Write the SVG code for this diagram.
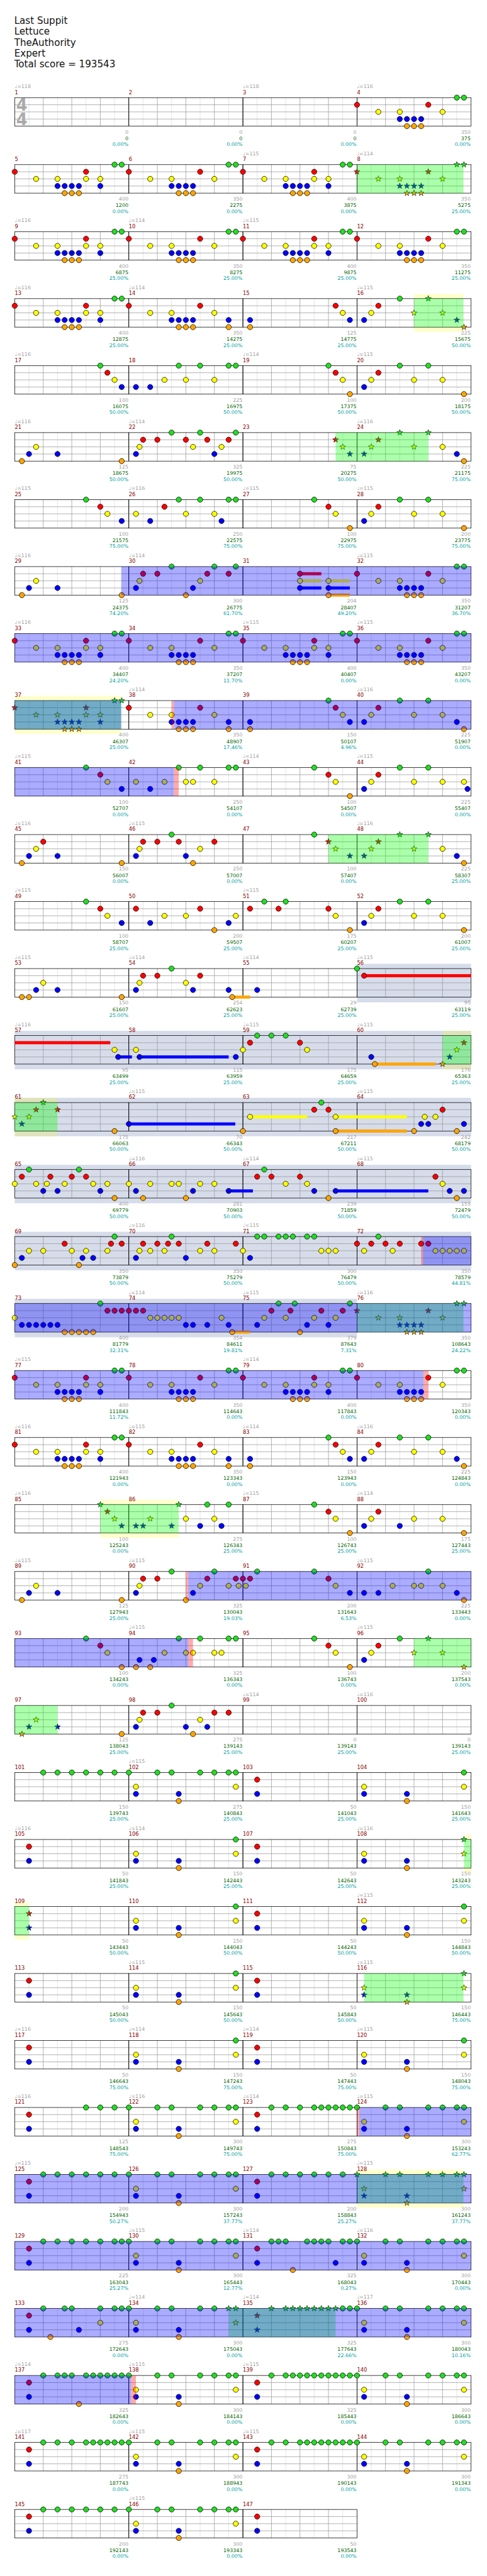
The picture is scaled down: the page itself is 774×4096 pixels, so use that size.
<svg xmlns="http://www.w3.org/2000/svg" width="774" height="4096" viewBox="0 0 774 4096">
<style>
text{font-family:"DejaVu Sans",sans-serif}
.t{font-size:20px;fill:#111}
.ts{font-size:34px;font-weight:bold;fill:#aaa}
.tp{font-size:10.5px;fill:#a0a0a0}
.n{font-size:11px;fill:#8b0000}
.a,.b,.c{font-size:10.5px;text-anchor:end}
.a{fill:#a0a0a0}.b{fill:#006400}.c{fill:#00a0a0}
.gr{fill:#00ff00;fill-opacity:.33}
.bl{fill:#0000ff;fill-opacity:.33}
.pk{fill:#ff0000;fill-opacity:.33}
.yb{fill:#ffff00;fill-opacity:.2}
.bd{fill:#325096;fill-opacity:.2}
.sr{fill:#f00}.sy{fill:#ff0}.sb{fill:#00f}.so{fill:#ffa500}
</style>
<defs>
<g id="M"><path d="M30 0V60M90 0V60M150 0V60M210 0V60" stroke="#dcdcdc"/><path d="M60 0V60M120 0V60M180 0V60M0 15H240M0 30H240M0 45H240" stroke="#9a9a9a"/><rect width="240" height="60" fill="none" stroke="#000"/></g>
<circle id="G" r="5.5" fill="#22dd22" stroke="#000"/>
<circle id="R" cy="15" r="5.5" fill="#f00" stroke="#000"/>
<circle id="Y" cy="30" r="5.5" fill="#ff0" stroke="#000"/>
<circle id="B" cy="45" r="5.5" fill="#00f" stroke="#000"/>
<circle id="O" cy="60" r="5.5" fill="#ffa500" stroke="#000"/>
<polygon id="st" points="0,-6.5 1.53,-2.1 6.18,-2.01 2.47,0.8 3.82,5.26 0,2.6 -3.82,5.26 -2.47,0.8 -6.18,-2.01 -1.53,-2.1" stroke="#000" stroke-width="0.8"/>
<use id="sG" href="#st" fill="#22dd22"/>
<use id="sR" href="#st" y="15" fill="#f00"/>
<use id="sY" href="#st" y="30" fill="#ff0"/>
<use id="sB" href="#st" y="45" fill="#00f"/>
<use id="sO" href="#st" y="60" fill="#ffa500"/>
<g id="P0"><use href="#R"/><use href="#Y" x="45"/><use href="#Y" x="90"/><use href="#B" x="90"/><use href="#B" x="105"/><use href="#B" x="120"/><use href="#B" x="135"/><use href="#O" x="105"/><use href="#O" x="120"/><use href="#O" x="135"/><use href="#R" x="150"/><use href="#Y" x="180"/></g>
<g id="P1"><use href="#P0"/><use href="#G" x="210"/><use href="#G" x="225"/></g>
<g id="P2"><use href="#P1"/><use href="#Y" x="150"/><use href="#B" x="180"/></g>
<g id="P3"><use href="#P0"/><use href="#B" x="210"/><use href="#O" x="210"/></g>
<g id="P1s"><use href="#sR"/><use href="#sY" x="45"/><use href="#sY" x="90"/><use href="#sB" x="90"/><use href="#sB" x="105"/><use href="#sB" x="120"/><use href="#sB" x="135"/><use href="#sO" x="105"/><use href="#sO" x="120"/><use href="#sO" x="135"/><use href="#sR" x="150"/><use href="#sY" x="180"/><use href="#sG" x="210"/><use href="#sG" x="225"/></g>
<g id="P2s"><use href="#P1s"/><use href="#sY" x="150"/><use href="#sB" x="180"/></g>
<g id="Q1"><use href="#Y" x="15"/><use href="#B" x="15"/><use href="#B" x="105"/><use href="#O" x="105"/><use href="#Y" x="225"/><use href="#G" x="225"/></g>
<g id="Q1s"><use href="#sY" x="15"/><use href="#sB" x="15"/><use href="#sB" x="105"/><use href="#sO" x="105"/><use href="#sY" x="225"/><use href="#sG" x="225"/></g>
<g id="Q2"><use href="#R" x="30"/><use href="#B" x="30"/></g>
<g id="Q2s"><use href="#sR" x="30"/><use href="#sB" x="30"/></g>
<g id="Q3"><use href="#Q1"/><use href="#G"/><use href="#G" x="60"/><use href="#G" x="90"/><use href="#G" x="150"/><use href="#G" x="180"/><use href="#G" x="210"/></g>
<g id="Q3s"><use href="#Q1s"/><use href="#sG"/><use href="#sG" x="60"/><use href="#sG" x="90"/><use href="#sG" x="150"/><use href="#sG" x="180"/><use href="#sG" x="210"/></g>
</defs>
<rect width="774" height="4096" fill="#fff"/>
<g transform="scale(0.7555)">
<g id="title">
<text class="t" x="30" y="50">Last Suppit</text>
<text class="t" x="30" y="73">Lettuce</text>
<text class="t" x="30" y="96">TheAuthority</text>
<text class="t" x="30" y="119">Expert</text>
<text class="t" x="30" y="142">Total score = 193543</text>
</g>

<g id="row1" transform="translate(0,205.5)">
<g><use href="#M" x="31"/><use href="#M" x="271"/><use href="#M" x="511"/><use href="#M" x="751"/></g>
<text class="ts" x="34" y="27.5">4</text><text class="ts" x="34" y="57.5">4</text>
<g id="m1" transform="translate(31,0)"><text class="tp" y="-20">♩=118</text><text class="n" y="-7.5">1</text><text class="a" x="239" y="76">0</text><text class="b" x="239" y="89.5">0</text><text class="c" x="239" y="102">0.00%</text></g>
<g id="m2" transform="translate(271,0)"><text class="n" y="-7.5">2</text><text class="a" x="239" y="76">0</text><text class="b" x="239" y="89.5">0</text><text class="c" x="239" y="102">0.00%</text></g>
<g id="m3" transform="translate(511,0)"><text class="tp" y="-20">♩=118</text><text class="n" y="-7.5">3</text><text class="a" x="239" y="76">0</text><text class="b" x="239" y="89.5">0</text><text class="c" x="239" y="102">0.00%</text></g>
<g id="m4" transform="translate(751,0)"><text class="tp" y="-20">♩=116</text><text class="n" y="-7.5">4</text><text class="a" x="239" y="76">350</text><text class="b" x="239" y="89.5">375</text><text class="c" x="239" y="102">0.00%</text><use href="#P1"/></g>
</g>

<g id="row2" transform="translate(0,346.5)">
<g><use href="#M" x="31"/><use href="#M" x="271"/><use href="#M" x="511"/><use href="#M" x="751"/></g>
<g id="m5" transform="translate(31,0)"><text class="n" y="-7.5">5</text><text class="a" x="239" y="76">400</text><text class="b" x="239" y="89.5">1200</text><text class="c" x="239" y="102">0.00%</text><use href="#P2"/></g>
<g id="m6" transform="translate(271,0)"><text class="n" y="-7.5">6</text><text class="a" x="239" y="76">350</text><text class="b" x="239" y="89.5">2275</text><text class="c" x="239" y="102">0.00%</text><use href="#P1"/></g>
<g id="m7" transform="translate(511,0)"><text class="tp" y="-20">♩=115</text><text class="n" y="-7.5">7</text><text class="a" x="239" y="76">400</text><text class="b" x="239" y="89.5">3875</text><text class="c" x="239" y="102">0.00%</text><use href="#P2"/></g>
<g id="m8" transform="translate(751,0)"><text class="tp" y="-20">♩=114</text><text class="n" y="-7.5">8</text><text class="a" x="239" y="76">350</text><text class="b" x="239" y="89.5">5275</text><text class="c" x="239" y="102">25.00%</text><use href="#P1s"/></g>
<rect class="gr" x="751" width="224" height="60"/>
</g>

<g id="row3" transform="translate(0,487.5)">
<g><use href="#M" x="31"/><use href="#M" x="271"/><use href="#M" x="511"/><use href="#M" x="751"/></g>
<g id="m9" transform="translate(31,0)"><text class="tp" y="-20">♩=116</text><text class="n" y="-7.5">9</text><text class="a" x="239" y="76">400</text><text class="b" x="239" y="89.5">6875</text><text class="c" x="239" y="102">25.00%</text><use href="#P2"/></g>
<g id="m10" transform="translate(271,0)"><text class="tp" y="-20">♩=114</text><text class="n" y="-7.5">10</text><text class="a" x="239" y="76">350</text><text class="b" x="239" y="89.5">8275</text><text class="c" x="239" y="102">25.00%</text><use href="#P1"/></g>
<g id="m11" transform="translate(511,0)"><text class="tp" y="-20">♩=115</text><text class="n" y="-7.5">11</text><text class="a" x="239" y="76">400</text><text class="b" x="239" y="89.5">9875</text><text class="c" x="239" y="102">25.00%</text><use href="#P2"/></g>
<g id="m12" transform="translate(751,0)"><text class="n" y="-7.5">12</text><text class="a" x="239" y="76">350</text><text class="b" x="239" y="89.5">11275</text><text class="c" x="239" y="102">25.00%</text><use href="#P1"/></g>
</g>

<g id="row4" transform="translate(0,628.5)">
<rect class="yb" x="871" y="-10" width="104" height="10"/><rect class="yb" x="871" y="60" width="104" height="10"/>
<g><use href="#M" x="31"/><use href="#M" x="271"/><use href="#M" x="511"/><use href="#M" x="751"/></g>
<g id="m13" transform="translate(31,0)"><text class="tp" y="-20">♩=116</text><text class="n" y="-7.5">13</text><text class="a" x="239" y="76">400</text><text class="b" x="239" y="89.5">12875</text><text class="c" x="239" y="102">25.00%</text><use href="#P2"/></g>
<g id="m14" transform="translate(271,0)"><text class="tp" y="-20">♩=114</text><text class="n" y="-7.5">14</text><text class="a" x="239" y="76">350</text><text class="b" x="239" y="89.5">14275</text><text class="c" x="239" y="102">25.00%</text><use href="#P3"/></g>
<g id="m15" transform="translate(511,0)"><text class="n" y="-7.5">15</text><text class="a" x="239" y="76">125</text><text class="b" x="239" y="89.5">14775</text><text class="c" x="239" y="102">25.00%</text><use href="#B" x="15"/><use href="#O" x="15"/><use href="#R" x="195"/><use href="#Y" x="210"/><use href="#B" x="225"/></g>
<g id="m16" transform="translate(751,0)"><text class="tp" y="-20">♩=115</text><text class="n" y="-7.5">16</text><text class="a" x="239" y="76">225</text><text class="b" x="239" y="89.5">15675</text><text class="c" x="239" y="102">50.00%</text><use href="#B" x="15"/><use href="#Y" x="30"/><use href="#R" x="45"/><use href="#G" x="90"/><use href="#sY" x="120"/><use href="#sG" x="150"/><use href="#sY" x="180"/><use href="#sB" x="210"/><use href="#sO" x="225"/></g>
<rect class="gr" x="871" width="104" height="60"/>
</g>

<g id="row5" transform="translate(0,769.5)">
<g><use href="#M" x="31"/><use href="#M" x="271"/><use href="#M" x="511"/><use href="#M" x="751"/></g>
<g id="m17" transform="translate(31,0)"><text class="tp" y="-20">♩=116</text><text class="n" y="-7.5">17</text><text class="a" x="239" y="76">100</text><text class="b" x="239" y="89.5">16075</text><text class="c" x="239" y="102">50.00%</text><use href="#G" x="180"/><use href="#R" x="195"/><use href="#Y" x="210"/><use href="#B" x="225"/></g>
<g id="m18" transform="translate(271,0)"><text class="n" y="-7.5">18</text><text class="a" x="239" y="76">225</text><text class="b" x="239" y="89.5">16975</text><text class="c" x="239" y="102">50.00%</text><use href="#B" x="15"/><use href="#B" x="45"/><use href="#Y" x="75"/><use href="#G" x="105"/><use href="#Y" x="120"/><use href="#G" x="150"/><use href="#Y" x="180"/><use href="#G" x="210"/><use href="#G" x="225"/></g>
<g id="m19" transform="translate(511,0)"><text class="tp" y="-20">♩=114</text><text class="n" y="-7.5">19</text><text class="a" x="239" y="76">100</text><text class="b" x="239" y="89.5">17375</text><text class="c" x="239" y="102">50.00%</text><use href="#G" x="180"/><use href="#R" x="195"/><use href="#Y" x="210"/><use href="#O" x="225"/></g>
<g id="m20" transform="translate(751,0)"><text class="tp" y="-20">♩=115</text><text class="n" y="-7.5">20</text><text class="a" x="239" y="76">200</text><text class="b" x="239" y="89.5">18175</text><text class="c" x="239" y="102">50.00%</text><use href="#B" x="15"/><use href="#Y" x="30"/><use href="#R" x="45"/><use href="#G" x="90"/><use href="#Y" x="120"/><use href="#G" x="150"/><use href="#Y" x="180"/><use href="#O" x="225"/></g>
</g>

<g id="row6" transform="translate(0,910.5)">
<g><use href="#M" x="31"/><use href="#M" x="271"/><use href="#M" x="511"/><use href="#M" x="751"/></g>
<g id="m21" transform="translate(31,0)"><text class="tp" y="-20">♩=116</text><text class="n" y="-7.5">21</text><text class="a" x="239" y="76">125</text><text class="b" x="239" y="89.5">18675</text><text class="c" x="239" y="102">50.00%</text><use href="#O" x="15"/><use href="#B" x="30"/><use href="#Y" x="45"/><use href="#B" x="90"/><use href="#O" x="225"/></g>
<g id="m22" transform="translate(271,0)"><text class="tp" y="-20">♩=114</text><text class="n" y="-7.5">22</text><text class="a" x="239" y="76">325</text><text class="b" x="239" y="89.5">19975</text><text class="c" x="239" y="102">50.00%</text><use href="#B" x="15"/><use href="#Y" x="22.5"/><use href="#R" x="30"/><use href="#R" x="60"/><use href="#G" x="90"/><use href="#R" x="120"/><use href="#Y" x="135"/><use href="#G" x="150"/><use href="#R" x="165"/><use href="#B" x="180"/><use href="#Y" x="195"/><use href="#R" x="210"/><use href="#G" x="225"/></g>
<g id="m23" transform="translate(511,0)"><text class="n" y="-7.5">23</text><text class="a" x="239" y="76">75</text><text class="b" x="239" y="89.5">20275</text><text class="c" x="239" y="102">50.00%</text><use href="#sR" x="195"/><use href="#sY" x="210"/><use href="#sB" x="225"/></g>
<g id="m24" transform="translate(751,0)"><text class="tp" y="-20">♩=116</text><text class="n" y="-7.5">24</text><text class="a" x="239" y="76">225</text><text class="b" x="239" y="89.5">21175</text><text class="c" x="239" y="102">75.00%</text><use href="#sB" x="15"/><use href="#sY" x="30"/><use href="#sR" x="45"/><use href="#sG" x="90"/><use href="#sY" x="120"/><use href="#sG" x="150"/><use href="#Y" x="180"/><use href="#B" x="210"/><use href="#O" x="225"/></g>
<rect class="gr" x="706" width="195" height="60"/>
</g>

<g id="row7" transform="translate(0,1051.5)">
<g><use href="#M" x="31"/><use href="#M" x="271"/><use href="#M" x="511"/><use href="#M" x="751"/></g>
<g id="m25" transform="translate(31,0)"><text class="tp" y="-20">♩=115</text><text class="n" y="-7.5">25</text><text class="a" x="239" y="76">100</text><text class="b" x="239" y="89.5">21575</text><text class="c" x="239" y="102">75.00%</text><use href="#G" x="150"/><use href="#R" x="180"/><use href="#Y" x="195"/><use href="#B" x="225"/></g>
<g id="m26" transform="translate(271,0)"><text class="tp" y="-20">♩=116</text><text class="n" y="-7.5">26</text><text class="a" x="239" y="76">250</text><text class="b" x="239" y="89.5">22575</text><text class="c" x="239" y="102">75.00%</text><use href="#Y" x="15"/><use href="#B" x="45"/><use href="#R" x="75"/><use href="#G" x="105"/><use href="#Y" x="120"/><use href="#G" x="150"/><use href="#Y" x="180"/><use href="#B" x="195"/><use href="#G" x="210"/><use href="#G" x="225"/></g>
<g id="m27" transform="translate(511,0)"><text class="tp" y="-20">♩=115</text><text class="n" y="-7.5">27</text><text class="a" x="239" y="76">100</text><text class="b" x="239" y="89.5">22975</text><text class="c" x="239" y="102">75.00%</text><use href="#G" x="150"/><use href="#R" x="180"/><use href="#Y" x="195"/><use href="#O" x="225"/></g>
<g id="m28" transform="translate(751,0)"><text class="tp" y="-20">♩=115</text><text class="n" y="-7.5">28</text><text class="a" x="239" y="76">200</text><text class="b" x="239" y="89.5">23775</text><text class="c" x="239" y="102">75.00%</text><use href="#B" x="15"/><use href="#Y" x="30"/><use href="#R" x="45"/><use href="#G" x="90"/><use href="#Y" x="120"/><use href="#G" x="150"/><use href="#Y" x="180"/><use href="#O" x="225"/></g>
</g>

<g id="row8" transform="translate(0,1192.5)">
<g><use href="#M" x="31"/><use href="#M" x="271"/><use href="#M" x="511"/><use href="#M" x="751"/></g>
<g id="m29" transform="translate(31,0)"><text class="tp" y="-20">♩=116</text><text class="n" y="-7.5">29</text><text class="a" x="239" y="76">125</text><text class="b" x="239" y="89.5">24375</text><text class="c" x="239" y="102">74.20%</text><use href="#O" x="15"/><use href="#B" x="30"/><use href="#Y" x="45"/><use href="#B" x="90"/><use href="#O" x="225"/></g>
<g id="m30" transform="translate(271,0)"><text class="tp" y="-20">♩=114</text><text class="n" y="-7.5">30</text><text class="a" x="239" y="76">300</text><text class="b" x="239" y="89.5">26775</text><text class="c" x="239" y="102">61.70%</text><use href="#B" x="15"/><use href="#Y" x="22.5"/><use href="#R" x="30"/><use href="#R" x="60"/><use href="#G" x="90"/><use href="#O" x="120"/><use href="#B" x="135"/><use href="#Y" x="150"/><use href="#R" x="165"/><use href="#G" x="180"/><use href="#R" x="210"/><use href="#G" x="225"/></g>
<g id="m31" transform="translate(511,0)"><text class="n" y="-7.5">31</text><text class="a" x="239" y="76">204</text><text class="b" x="239" y="89.5">28407</text><text class="c" x="239" y="102">49.20%</text><rect class="sr" x="120" y="11.75" width="45" height="6.5"/><rect class="sy" x="120" y="26.75" width="45" height="6.5"/><rect class="sb" x="120" y="41.75" width="45" height="6.5"/><rect class="sy" x="180" y="26.75" width="45" height="6.5"/><rect class="sb" x="180" y="41.75" width="45" height="6.5"/><rect class="so" x="180" y="56.75" width="45" height="6.5"/><use href="#R" x="120"/><use href="#Y" x="120"/><use href="#B" x="120"/><use href="#Y" x="180"/><use href="#B" x="180"/><use href="#O" x="180"/></g>
<g id="m32" transform="translate(751,0)"><text class="tp" y="-20">♩=115</text><text class="n" y="-7.5">32</text><text class="a" x="239" y="76">350</text><text class="b" x="239" y="89.5">31207</text><text class="c" x="239" y="102">36.70%</text><use href="#P1"/></g>
<rect class="bl" x="255" width="736" height="60"/>
</g>

<g id="row9" transform="translate(0,1333.5)">
<g><use href="#M" x="31"/><use href="#M" x="271"/><use href="#M" x="511"/><use href="#M" x="751"/></g>
<g id="m33" transform="translate(31,0)"><text class="tp" y="-20">♩=116</text><text class="n" y="-7.5">33</text><text class="a" x="239" y="76">400</text><text class="b" x="239" y="89.5">34407</text><text class="c" x="239" y="102">24.20%</text><use href="#P2"/></g>
<g id="m34" transform="translate(271,0)"><text class="n" y="-7.5">34</text><text class="a" x="239" y="76">350</text><text class="b" x="239" y="89.5">37207</text><text class="c" x="239" y="102">11.70%</text><use href="#P1"/></g>
<g id="m35" transform="translate(511,0)"><text class="tp" y="-20">♩=115</text><text class="n" y="-7.5">35</text><text class="a" x="239" y="76">400</text><text class="b" x="239" y="89.5">40407</text><text class="c" x="239" y="102">0.00%</text><use href="#P2"/></g>
<g id="m36" transform="translate(751,0)"><text class="tp" y="-20">♩=115</text><text class="n" y="-7.5">36</text><text class="a" x="239" y="76">350</text><text class="b" x="239" y="89.5">43207</text><text class="c" x="239" y="102">0.00%</text><use href="#P1"/></g>
<rect class="bl" x="31" width="960" height="60"/>
</g>

<g id="row10" transform="translate(0,1474.5)">
<rect class="yb" x="31" y="-10" width="224" height="10"/><rect class="yb" x="31" y="60" width="224" height="10"/>
<g><use href="#M" x="31"/><use href="#M" x="271"/><use href="#M" x="511"/><use href="#M" x="751"/></g>
<g id="m37" transform="translate(31,0)"><text class="n" y="-7.5">37</text><text class="a" x="239" y="76">400</text><text class="b" x="239" y="89.5">46307</text><text class="c" x="239" y="102">25.00%</text><use href="#P2s"/></g>
<g id="m38" transform="translate(271,0)"><text class="tp" y="-20">♩=114</text><text class="n" y="-7.5">38</text><text class="a" x="239" y="76">350</text><text class="b" x="239" y="89.5">48907</text><text class="c" x="239" y="102">17.46%</text><use href="#P3"/></g>
<g id="m39" transform="translate(511,0)"><text class="n" y="-7.5">39</text><text class="a" x="239" y="76">150</text><text class="b" x="239" y="89.5">50107</text><text class="c" x="239" y="102">4.96%</text><use href="#B" x="15"/><use href="#O" x="15"/><use href="#G" x="180"/><use href="#R" x="195"/><use href="#Y" x="210"/><use href="#B" x="225"/></g>
<g id="m40" transform="translate(751,0)"><text class="tp" y="-20">♩=116</text><text class="n" y="-7.5">40</text><text class="a" x="239" y="76">225</text><text class="b" x="239" y="89.5">51907</text><text class="c" x="239" y="102">0.00%</text><use href="#B" x="15"/><use href="#Y" x="30"/><use href="#R" x="45"/><use href="#G" x="90"/><use href="#Y" x="120"/><use href="#G" x="150"/><use href="#Y" x="180"/><use href="#B" x="210"/><use href="#O" x="225"/></g>
<rect class="gr" x="31" width="224" height="60"/><rect class="bl" x="31" width="224" height="60"/><rect class="pk" x="361" width="5" height="60"/><rect class="bl" x="366" width="625" height="60"/>
</g>

<g id="row11" transform="translate(0,1615.5)">
<g><use href="#M" x="31"/><use href="#M" x="271"/><use href="#M" x="511"/><use href="#M" x="751"/></g>
<g id="m41" transform="translate(31,0)"><text class="tp" y="-20">♩=115</text><text class="n" y="-7.5">41</text><text class="a" x="239" y="76">100</text><text class="b" x="239" y="89.5">52707</text><text class="c" x="239" y="102">0.00%</text><use href="#G" x="150"/><use href="#R" x="180"/><use href="#Y" x="195"/><use href="#B" x="225"/></g>
<g id="m42" transform="translate(271,0)"><text class="n" y="-7.5">42</text><text class="a" x="239" y="76">250</text><text class="b" x="239" y="89.5">54107</text><text class="c" x="239" y="102">0.00%</text><use href="#Y" x="15"/><use href="#B" x="45"/><use href="#Y" x="75"/><use href="#G" x="105"/><use href="#Y" x="120"/><use href="#Y" x="135"/><use href="#G" x="150"/><use href="#Y" x="180"/><use href="#G" x="210"/><use href="#G" x="225"/></g>
<g id="m43" transform="translate(511,0)"><text class="tp" y="-20">♩=114</text><text class="n" y="-7.5">43</text><text class="a" x="239" y="76">100</text><text class="b" x="239" y="89.5">54507</text><text class="c" x="239" y="102">0.00%</text><use href="#G" x="150"/><use href="#R" x="180"/><use href="#Y" x="195"/><use href="#O" x="225"/></g>
<g id="m44" transform="translate(751,0)"><text class="tp" y="-20">♩=115</text><text class="n" y="-7.5">44</text><text class="a" x="239" y="76">225</text><text class="b" x="239" y="89.5">55407</text><text class="c" x="239" y="102">0.00%</text><use href="#B" x="15"/><use href="#Y" x="30"/><use href="#R" x="45"/><use href="#G" x="90"/><use href="#Y" x="120"/><use href="#G" x="150"/><use href="#Y" x="180"/><use href="#Y" x="225"/><use href="#B" x="232.5"/></g>
<rect class="bl" x="31" width="335" height="60"/><rect class="pk" x="366" width="10" height="60"/>
</g>

<g id="row12" transform="translate(0,1756.5)">
<g><use href="#M" x="31"/><use href="#M" x="271"/><use href="#M" x="511"/><use href="#M" x="751"/></g>
<g id="m45" transform="translate(31,0)"><text class="tp" y="-20">♩=116</text><text class="n" y="-7.5">45</text><text class="a" x="239" y="76">150</text><text class="b" x="239" y="89.5">56007</text><text class="c" x="239" y="102">0.00%</text><use href="#O" x="15"/><use href="#B" x="30"/><use href="#Y" x="45"/><use href="#R" x="60"/><use href="#B" x="90"/><use href="#O" x="225"/></g>
<g id="m46" transform="translate(271,0)"><text class="tp" y="-20">♩=115</text><text class="n" y="-7.5">46</text><text class="a" x="239" y="76">250</text><text class="b" x="239" y="89.5">57007</text><text class="c" x="239" y="102">0.00%</text><use href="#B" x="15"/><use href="#Y" x="22.5"/><use href="#R" x="30"/><use href="#R" x="60"/><use href="#G" x="90"/><use href="#R" x="105"/><use href="#B" x="120"/><use href="#O" x="135"/><use href="#Y" x="150"/><use href="#R" x="180"/></g>
<g id="m47" transform="translate(511,0)"><text class="n" y="-7.5">47</text><text class="a" x="239" y="76">100</text><text class="b" x="239" y="89.5">57407</text><text class="c" x="239" y="102">0.00%</text><use href="#G" x="150"/><use href="#sR" x="180"/><use href="#sY" x="195"/><use href="#sB" x="225"/></g>
<g id="m48" transform="translate(751,0)"><text class="tp" y="-20">♩=116</text><text class="n" y="-7.5">48</text><text class="a" x="239" y="76">225</text><text class="b" x="239" y="89.5">58307</text><text class="c" x="239" y="102">25.00%</text><use href="#sB" x="15"/><use href="#sY" x="30"/><use href="#sR" x="45"/><use href="#sG" x="90"/><use href="#sY" x="120"/><use href="#sG" x="150"/><use href="#Y" x="180"/><use href="#B" x="210"/><use href="#O" x="225"/></g>
<rect class="gr" x="691" width="210" height="60"/>
</g>

<g id="row13" transform="translate(0,1897.5)">
<g><use href="#M" x="31"/><use href="#M" x="271"/><use href="#M" x="511"/><use href="#M" x="751"/></g>
<g id="m49" transform="translate(31,0)"><text class="tp" y="-20">♩=115</text><text class="n" y="-7.5">49</text><text class="a" x="239" y="76">100</text><text class="b" x="239" y="89.5">58707</text><text class="c" x="239" y="102">25.00%</text><use href="#G" x="150"/><use href="#R" x="180"/><use href="#Y" x="195"/><use href="#B" x="225"/></g>
<g id="m50" transform="translate(271,0)"><text class="n" y="-7.5">50</text><text class="a" x="239" y="76">200</text><text class="b" x="239" y="89.5">59507</text><text class="c" x="239" y="102">25.00%</text><use href="#R" x="15"/><use href="#B" x="45"/><use href="#Y" x="75"/><use href="#Y" x="120"/><use href="#R" x="150"/><use href="#O" x="180"/><use href="#B" x="210"/><use href="#Y" x="225"/></g>
<g id="m51" transform="translate(511,0)"><text class="tp" y="-20">♩=115</text><text class="n" y="-7.5">51</text><text class="a" x="239" y="76">175</text><text class="b" x="239" y="89.5">60207</text><text class="c" x="239" y="102">25.00%</text><use href="#R" x="15"/><use href="#G" x="45"/><use href="#R" x="75"/><use href="#G" x="90"/><use href="#R" x="180"/><use href="#Y" x="195"/><use href="#O" x="225"/></g>
<g id="m52" transform="translate(751,0)"><text class="n" y="-7.5">52</text><text class="a" x="239" y="76">200</text><text class="b" x="239" y="89.5">61007</text><text class="c" x="239" y="102">25.00%</text><use href="#B" x="15"/><use href="#Y" x="30"/><use href="#R" x="45"/><use href="#G" x="90"/><use href="#Y" x="120"/><use href="#G" x="150"/><use href="#Y" x="180"/><use href="#O" x="225"/></g>
</g>

<g id="row14" transform="translate(0,2038.5)">
<rect class="bd" x="751" y="-10" width="240" height="81"/>
<g><use href="#M" x="31"/><use href="#M" x="271"/><use href="#M" x="511"/><use href="#M" x="751"/></g>
<g id="m53" transform="translate(31,0)"><text class="tp" y="-20">♩=115</text><text class="n" y="-7.5">53</text><text class="a" x="239" y="76">150</text><text class="b" x="239" y="89.5">61607</text><text class="c" x="239" y="102">25.00%</text><use href="#O" x="15"/><use href="#O" x="30"/><use href="#B" x="45"/><use href="#Y" x="60"/><use href="#B" x="90"/><use href="#O" x="225"/></g>
<g id="m54" transform="translate(271,0)"><text class="tp" y="-20">♩=114</text><text class="n" y="-7.5">54</text><text class="a" x="239" y="76">254</text><text class="b" x="239" y="89.5">62623</text><text class="c" x="239" y="102">25.00%</text><rect class="so" x="217.5" y="56.75" width="37.5" height="6.5"/><use href="#B" x="15"/><use href="#Y" x="22.5"/><use href="#R" x="30"/><use href="#R" x="60"/><use href="#G" x="90"/><use href="#Y" x="120"/><use href="#B" x="135"/><use href="#R" x="150"/><use href="#B" x="210"/><use href="#O" x="217.5"/></g>
<g id="m55" transform="translate(511,0)"><text class="tp" y="-20">♩=114</text><text class="n" y="-7.5">55</text><text class="a" x="239" y="76">29</text><text class="b" x="239" y="89.5">62739</text><text class="c" x="239" y="102">25.00%</text><use href="#B" x="30"/></g>
<g id="m56" transform="translate(751,0)"><text class="tp" y="-20">♩=115</text><text class="n" y="-7.5">56</text><text class="a" x="239" y="76">95</text><text class="b" x="239" y="89.5">63119</text><text class="c" x="239" y="102">25.00%</text><rect class="sr" x="15" y="11.75" width="225" height="6.5"/><use href="#G"/><use href="#R" x="15"/></g>
</g>

<g id="row15" transform="translate(0,2179.5)">
<rect class="bd" x="31" y="-10" width="960" height="81"/>
<rect class="yb" x="931" y="-10" width="60" height="10"/><rect class="yb" x="931" y="60" width="60" height="11"/>
<g><use href="#M" x="31"/><use href="#M" x="271"/><use href="#M" x="511"/><use href="#M" x="751"/></g>
<g id="m57" transform="translate(31,0)"><text class="tp" y="-20">♩=116</text><text class="n" y="-7.5">57</text><text class="a" x="239" y="76">95</text><text class="b" x="239" y="89.5">63499</text><text class="c" x="239" y="102">25.00%</text><rect class="sr" x="0" y="11.75" width="201" height="6.5"/><rect class="sb" x="217.5" y="41.75" width="29" height="6.5"/><use href="#Y" x="210"/><use href="#B" x="217.5"/></g>
<g id="m58" transform="translate(271,0)"><text class="n" y="-7.5">58</text><text class="a" x="239" y="76">115</text><text class="b" x="239" y="89.5">63959</text><text class="c" x="239" y="102">25.00%</text><rect class="sb" x="22.5" y="41.75" width="187.5" height="6.5"/><use href="#Y" x="15"/><use href="#B" x="22.5"/><use href="#B" x="225"/></g>
<g id="m59" transform="translate(511,0)"><text class="tp" y="-20">♩=115</text><text class="n" y="-7.5">59</text><text class="a" x="239" y="76">175</text><text class="b" x="239" y="89.5">64659</text><text class="c" x="239" y="102">25.00%</text><use href="#Y"/><use href="#R" x="15"/><use href="#G" x="30"/><use href="#G" x="60"/><use href="#G" x="90"/><use href="#R" x="120"/><use href="#Y" x="135"/></g>
<g id="m60" transform="translate(751,0)"><text class="tp" y="-20">♩=115</text><text class="n" y="-7.5">60</text><text class="a" x="239" y="76">176</text><text class="b" x="239" y="89.5">65363</text><text class="c" x="239" y="102">25.00%</text><rect class="so" x="37.5" y="56.75" width="127.5" height="6.5"/><use href="#B" x="30"/><use href="#O" x="37.5"/><use href="#sO" x="180"/><use href="#sB" x="195"/><use href="#sY" x="210"/><use href="#sR" x="225"/></g>
<rect class="gr" x="931" width="60" height="60"/>
</g>

<g id="row16" transform="translate(0,2320.5)">
<rect class="bd" x="31" y="-10" width="960" height="81"/>
<rect class="yb" x="31" y="-10" width="90" height="10"/><rect class="yb" x="31" y="60" width="90" height="11"/>
<g><use href="#M" x="31"/><use href="#M" x="271"/><use href="#M" x="511"/><use href="#M" x="751"/></g>
<g id="m61" transform="translate(31,0)"><text class="n" y="-7.5">61</text><text class="a" x="239" y="76">175</text><text class="b" x="239" y="89.5">66063</text><text class="c" x="239" y="102">50.00%</text><use href="#sY"/><use href="#sB" x="15"/><use href="#sY" x="30"/><use href="#sR" x="45"/><use href="#sG" x="60"/><use href="#sR" x="90"/><use href="#O" x="210"/></g>
<g id="m62" transform="translate(271,0)"><text class="tp" y="-20">♩=115</text><text class="n" y="-7.5">62</text><text class="a" x="239" y="76">70</text><text class="b" x="239" y="89.5">66343</text><text class="c" x="239" y="102">50.00%</text><rect class="sb" x="0" y="41.75" width="224" height="6.5"/><use href="#B"/></g>
<g id="m63" transform="translate(511,0)"><text class="n" y="-7.5">63</text><text class="a" x="239" y="76">217</text><text class="b" x="239" y="89.5">67211</text><text class="c" x="239" y="102">50.00%</text><rect class="sy" x="15" y="26.75" width="120" height="6.5"/><rect class="sy" x="195" y="26.75" width="150" height="6.5"/><rect class="so" x="195" y="56.75" width="150" height="6.5"/><use href="#O"/><use href="#Y" x="15"/><use href="#R" x="150"/><use href="#G" x="165"/><use href="#R" x="180"/><use href="#Y" x="195"/><use href="#O" x="195"/></g>
<g id="m64" transform="translate(751,0)"><text class="tp" y="-20">♩=115</text><text class="n" y="-7.5">64</text><text class="a" x="239" y="76">242</text><text class="b" x="239" y="89.5">68179</text><text class="c" x="239" y="102">50.00%</text><use href="#O" x="120"/><use href="#B" x="135"/><use href="#Y" x="142.5"/><use href="#B" x="150"/><use href="#Y" x="165"/><use href="#R" x="180"/><use href="#O" x="210"/><use href="#B" x="225"/></g>
<rect class="gr" x="31" width="90" height="60"/>
</g>

<g id="row17" transform="translate(0,2461.5)">
<rect class="bd" x="31" y="-10" width="960" height="81"/>
<g><use href="#M" x="31"/><use href="#M" x="271"/><use href="#M" x="511"/><use href="#M" x="751"/></g>
<g id="m65" transform="translate(31,0)"><text class="n" y="-7.5">65</text><text class="a" x="239" y="76">400</text><text class="b" x="239" y="89.5">69779</text><text class="c" x="239" y="102">50.00%</text><use href="#Y"/><use href="#R" x="15"/><use href="#G" x="30"/><use href="#Y" x="45"/><use href="#B" x="60"/><use href="#Y" x="67.5"/><use href="#R" x="75"/><use href="#B" x="90"/><use href="#Y" x="105"/><use href="#R" x="120"/><use href="#G" x="135"/><use href="#R" x="150"/><use href="#Y" x="165"/><use href="#B" x="180"/><use href="#Y" x="195"/><use href="#O" x="210"/></g>
<g id="m66" transform="translate(271,0)"><text class="tp" y="-20">♩=116</text><text class="n" y="-7.5">66</text><text class="a" x="239" y="76">281</text><text class="b" x="239" y="89.5">70903</text><text class="c" x="239" y="102">50.00%</text><rect class="sb" x="210" y="41.75" width="51" height="6.5"/><use href="#Y"/><use href="#B" x="15"/><use href="#O" x="30"/><use href="#Y" x="45"/><use href="#Y" x="90"/><use href="#Y" x="105"/><use href="#O" x="120"/><use href="#B" x="135"/><use href="#Y" x="150"/><use href="#Y" x="180"/><use href="#B" x="210"/></g>
<g id="m67" transform="translate(511,0)"><text class="tp" y="-20">♩=114</text><text class="n" y="-7.5">67</text><text class="a" x="239" y="76">239</text><text class="b" x="239" y="89.5">71859</text><text class="c" x="239" y="102">50.00%</text><rect class="sb" x="195" y="41.75" width="195" height="6.5"/><use href="#R" x="30"/><use href="#G" x="45"/><use href="#R" x="60"/><use href="#Y" x="90"/><use href="#R" x="120"/><use href="#Y" x="135"/><use href="#B" x="150"/><use href="#O" x="180"/><use href="#B" x="195"/></g>
<g id="m68" transform="translate(751,0)"><text class="tp" y="-20">♩=115</text><text class="n" y="-7.5">68</text><text class="a" x="239" y="76">155</text><text class="b" x="239" y="89.5">72479</text><text class="c" x="239" y="102">50.00%</text><use href="#R" x="165"/><use href="#Y" x="180"/><use href="#B" x="195"/><use href="#O" x="210"/><use href="#B" x="225"/></g>
</g>

<g id="row18" transform="translate(0,2602.5)">
<rect class="bd" x="31" y="-10" width="960" height="81"/>
<g><use href="#M" x="31"/><use href="#M" x="271"/><use href="#M" x="511"/><use href="#M" x="751"/></g>
<g id="m69" transform="translate(31,0)"><text class="n" y="-7.5">69</text><text class="a" x="239" y="76">350</text><text class="b" x="239" y="89.5">73879</text><text class="c" x="239" y="102">50.00%</text><use href="#O"/><use href="#B" x="15"/><use href="#Y" x="30"/><use href="#Y" x="60"/><use href="#R" x="105"/><use href="#Y" x="120"/><use href="#O" x="135"/><use href="#B" x="142.5"/><use href="#Y" x="150"/><use href="#B" x="165"/><use href="#Y" x="195"/><use href="#R" x="202.5"/><use href="#G" x="210"/><use href="#R" x="225"/></g>
<g id="m70" transform="translate(271,0)"><text class="tp" y="-20">♩=116</text><text class="n" y="-7.5">70</text><text class="a" x="239" y="76">350</text><text class="b" x="239" y="89.5">75279</text><text class="c" x="239" y="102">50.00%</text><use href="#B" x="15"/><use href="#Y" x="22.5"/><use href="#R" x="30"/><use href="#Y" x="45"/><use href="#R" x="60"/><use href="#Y" x="75"/><use href="#R" x="82.5"/><use href="#G" x="90"/><use href="#R" x="105"/><use href="#B" x="120"/><use href="#Y" x="150"/><use href="#R" x="165"/><use href="#Y" x="180"/><use href="#R" x="225"/></g>
<g id="m71" transform="translate(511,0)"><text class="tp" y="-20">♩=115</text><text class="n" y="-7.5">71</text><text class="a" x="239" y="76">300</text><text class="b" x="239" y="89.5">76479</text><text class="c" x="239" y="102">50.00%</text><use href="#Y"/><use href="#B" x="15"/><use href="#G" x="30"/><use href="#G" x="45"/><use href="#G" x="75"/><use href="#G" x="90"/><use href="#G" x="105"/><use href="#G" x="135"/><use href="#G" x="150"/><use href="#Y" x="165"/><use href="#Y" x="180"/><use href="#Y" x="195"/></g>
<g id="m72" transform="translate(751,0)"><text class="n" y="-7.5">72</text><text class="a" x="239" y="76">350</text><text class="b" x="239" y="89.5">78579</text><text class="c" x="239" y="102">44.81%</text><use href="#R"/><use href="#Y" x="15"/><use href="#R" x="30"/><use href="#G" x="45"/><use href="#R" x="60"/><use href="#Y" x="75"/><use href="#R" x="90"/><use href="#R" x="135"/><use href="#R" x="150"/><use href="#Y" x="165"/><use href="#Y" x="180"/><use href="#Y" x="195"/><use href="#Y" x="210"/><use href="#Y" x="225"/></g>
<rect class="pk" x="886" width="4" height="60"/><rect class="bl" x="890" width="101" height="60"/>
</g>

<g id="row19" transform="translate(0,2743.5)">
<rect class="bd" x="31" y="-10" width="720" height="81"/>
<g><use href="#M" x="31"/><use href="#M" x="271"/><use href="#M" x="511"/><use href="#M" x="751"/></g>
<g id="m73" transform="translate(31,0)"><text class="n" y="-7.5">73</text><text class="a" x="239" y="76">400</text><text class="b" x="239" y="89.5">81779</text><text class="c" x="239" y="102">32.31%</text><use href="#Y"/><use href="#B" x="15"/><use href="#B" x="30"/><use href="#B" x="45"/><use href="#B" x="60"/><use href="#B" x="75"/><use href="#B" x="90"/><use href="#O" x="105"/><use href="#O" x="120"/><use href="#O" x="135"/><use href="#O" x="150"/><use href="#O" x="165"/><use href="#G" x="180"/><use href="#R" x="195"/><use href="#R" x="210"/><use href="#R" x="225"/></g>
<g id="m74" transform="translate(271,0)"><text class="tp" y="-20">♩=114</text><text class="n" y="-7.5">74</text><text class="a" x="239" y="76">354</text><text class="b" x="239" y="89.5">84611</text><text class="c" x="239" y="102">19.81%</text><rect class="so" x="217.5" y="56.75" width="37.5" height="6.5"/><use href="#R"/><use href="#R" x="15"/><use href="#R" x="30"/><use href="#Y" x="45"/><use href="#Y" x="60"/><use href="#Y" x="75"/><use href="#Y" x="90"/><use href="#Y" x="105"/><use href="#B" x="120"/><use href="#B" x="135"/><use href="#B" x="165"/><use href="#Y" x="195"/><use href="#B" x="210"/><use href="#O" x="217.5"/></g>
<g id="m75" transform="translate(511,0)"><text class="tp" y="-20">♩=115</text><text class="n" y="-7.5">75</text><text class="a" x="239" y="76">379</text><text class="b" x="239" y="89.5">87643</text><text class="c" x="239" y="102">7.31%</text><use href="#B" x="30"/><use href="#Y" x="45"/><use href="#R" x="60"/><use href="#G" x="75"/><use href="#Y" x="90"/><use href="#R" x="100"/><use href="#G" x="109"/><use href="#O" x="120"/><use href="#B" x="135"/><use href="#Y" x="150"/><use href="#R" x="165"/><use href="#B" x="180"/><use href="#Y" x="195"/><use href="#R" x="210"/><use href="#G" x="225"/></g>
<g id="m76" transform="translate(751,0)"><text class="tp" y="-20">♩=116</text><text class="n" y="-7.5">76</text><text class="a" x="239" y="76">350</text><text class="b" x="239" y="89.5">108643</text><text class="c" x="239" y="102">24.22%</text><use href="#P1s"/></g>
<rect class="bl" x="31" width="720" height="60"/><rect class="gr" x="751" width="224" height="60"/><rect class="bl" x="751" width="240" height="60"/>
</g>

<g id="row20" transform="translate(0,2884.5)">
<g><use href="#M" x="31"/><use href="#M" x="271"/><use href="#M" x="511"/><use href="#M" x="751"/></g>
<g id="m77" transform="translate(31,0)"><text class="tp" y="-20">♩=115</text><text class="n" y="-7.5">77</text><text class="a" x="239" y="76">400</text><text class="b" x="239" y="89.5">111843</text><text class="c" x="239" y="102">11.72%</text><use href="#P2"/></g>
<g id="m78" transform="translate(271,0)"><text class="n" y="-7.5">78</text><text class="a" x="239" y="76">350</text><text class="b" x="239" y="89.5">114643</text><text class="c" x="239" y="102">0.00%</text><use href="#P1"/></g>
<g id="m79" transform="translate(511,0)"><text class="tp" y="-20">♩=114</text><text class="n" y="-7.5">79</text><text class="a" x="239" y="76">400</text><text class="b" x="239" y="89.5">117843</text><text class="c" x="239" y="102">0.00%</text><use href="#P2"/></g>
<g id="m80" transform="translate(751,0)"><text class="n" y="-7.5">80</text><text class="a" x="239" y="76">350</text><text class="b" x="239" y="89.5">120343</text><text class="c" x="239" y="102">0.00%</text><use href="#P1"/></g>
<rect class="bl" x="31" width="860" height="60"/><rect class="pk" x="891" width="10" height="60"/>
</g>

<g id="row21" transform="translate(0,3025.5)">
<g><use href="#M" x="31"/><use href="#M" x="271"/><use href="#M" x="511"/><use href="#M" x="751"/></g>
<g id="m81" transform="translate(31,0)"><text class="tp" y="-20">♩=116</text><text class="n" y="-7.5">81</text><text class="a" x="239" y="76">400</text><text class="b" x="239" y="89.5">121943</text><text class="c" x="239" y="102">0.00%</text><use href="#P2"/></g>
<g id="m82" transform="translate(271,0)"><text class="tp" y="-20">♩=115</text><text class="n" y="-7.5">82</text><text class="a" x="239" y="76">350</text><text class="b" x="239" y="89.5">123343</text><text class="c" x="239" y="102">0.00%</text><use href="#P3"/></g>
<g id="m83" transform="translate(511,0)"><text class="tp" y="-20">♩=114</text><text class="n" y="-7.5">83</text><text class="a" x="239" y="76">150</text><text class="b" x="239" y="89.5">123943</text><text class="c" x="239" y="102">0.00%</text><use href="#B" x="15"/><use href="#O" x="15"/><use href="#G" x="180"/><use href="#R" x="195"/><use href="#Y" x="210"/><use href="#B" x="225"/></g>
<g id="m84" transform="translate(751,0)"><text class="tp" y="-20">♩=116</text><text class="n" y="-7.5">84</text><text class="a" x="239" y="76">225</text><text class="b" x="239" y="89.5">124843</text><text class="c" x="239" y="102">0.00%</text><use href="#B" x="15"/><use href="#Y" x="30"/><use href="#R" x="45"/><use href="#G" x="90"/><use href="#Y" x="120"/><use href="#G" x="150"/><use href="#Y" x="180"/><use href="#B" x="210"/><use href="#O" x="225"/></g>
</g>

<g id="row22" transform="translate(0,3166.5)">
<rect class="yb" x="211" y="-10" width="165" height="10"/><rect class="yb" x="211" y="60" width="165" height="10"/>
<g><use href="#M" x="31"/><use href="#M" x="271"/><use href="#M" x="511"/><use href="#M" x="751"/></g>
<g id="m85" transform="translate(31,0)"><text class="tp" y="-20">♩=116</text><text class="n" y="-7.5">85</text><text class="a" x="239" y="76">100</text><text class="b" x="239" y="89.5">125243</text><text class="c" x="239" y="102">0.00%</text><use href="#sG" x="180"/><use href="#sR" x="195"/><use href="#sY" x="210"/><use href="#sB" x="225"/></g>
<g id="m86" transform="translate(271,0)"><text class="n" y="-7.5">86</text><text class="a" x="239" y="76">275</text><text class="b" x="239" y="89.5">126343</text><text class="c" x="239" y="102">25.00%</text><use href="#sB" x="15"/><use href="#sB" x="30"/><use href="#sY" x="45"/><use href="#sB" x="90"/><use href="#sG" x="105"/><use href="#Y" x="120"/><use href="#B" x="150"/><use href="#G" x="165"/><use href="#Y" x="180"/><use href="#B" x="195"/><use href="#G" x="210"/></g>
<g id="m87" transform="translate(511,0)"><text class="tp" y="-20">♩=115</text><text class="n" y="-7.5">87</text><text class="a" x="239" y="76">100</text><text class="b" x="239" y="89.5">126743</text><text class="c" x="239" y="102">25.00%</text><use href="#G" x="150"/><use href="#R" x="180"/><use href="#Y" x="195"/><use href="#O" x="225"/></g>
<g id="m88" transform="translate(751,0)"><text class="tp" y="-20">♩=114</text><text class="n" y="-7.5">88</text><text class="a" x="239" y="76">175</text><text class="b" x="239" y="89.5">127443</text><text class="c" x="239" y="102">25.00%</text><use href="#B" x="15"/><use href="#Y" x="30"/><use href="#R" x="45"/><use href="#B" x="90"/><use href="#Y" x="120"/><use href="#Y" x="180"/><use href="#O" x="225"/></g>
<rect class="gr" x="211" width="165" height="60"/>
</g>

<g id="row23" transform="translate(0,3307.5)">
<g><use href="#M" x="31"/><use href="#M" x="271"/><use href="#M" x="511"/><use href="#M" x="751"/></g>
<g id="m89" transform="translate(31,0)"><text class="tp" y="-20">♩=115</text><text class="n" y="-7.5">89</text><text class="a" x="239" y="76">125</text><text class="b" x="239" y="89.5">127943</text><text class="c" x="239" y="102">25.00%</text><use href="#O" x="15"/><use href="#B" x="30"/><use href="#Y" x="45"/><use href="#B" x="90"/><use href="#O" x="225"/></g>
<g id="m90" transform="translate(271,0)"><text class="tp" y="-20">♩=115</text><text class="n" y="-7.5">90</text><text class="a" x="239" y="76">325</text><text class="b" x="239" y="89.5">130043</text><text class="c" x="239" y="102">19.03%</text><use href="#B" x="15"/><use href="#Y" x="22.5"/><use href="#R" x="30"/><use href="#R" x="60"/><use href="#G" x="90"/><use href="#O" x="120"/><use href="#B" x="135"/><use href="#Y" x="150"/><use href="#R" x="165"/><use href="#G" x="180"/><use href="#Y" x="210"/><use href="#R" x="225"/><use href="#Y" x="231"/></g>
<g id="m91" transform="translate(511,0)"><text class="n" y="-7.5">91</text><text class="a" x="239" y="76">200</text><text class="b" x="239" y="89.5">131643</text><text class="c" x="239" y="102">6.53%</text><use href="#R"/><use href="#Y" x="6"/><use href="#R" x="15"/><use href="#G" x="30"/><use href="#G" x="150"/><use href="#R" x="180"/><use href="#Y" x="195"/><use href="#B" x="225"/></g>
<g id="m92" transform="translate(751,0)"><text class="tp" y="-20">♩=115</text><text class="n" y="-7.5">92</text><text class="a" x="239" y="76">225</text><text class="b" x="239" y="89.5">133443</text><text class="c" x="239" y="102">0.00%</text><use href="#B" x="15"/><use href="#B" x="45"/><use href="#Y" x="75"/><use href="#Y" x="120"/><use href="#Y" x="135"/><use href="#G" x="150"/><use href="#Y" x="180"/><use href="#B" x="210"/><use href="#O" x="225"/></g>
<rect class="pk" x="391" width="5" height="60"/><rect class="bl" x="396" width="595" height="60"/>
</g>

<g id="row24" transform="translate(0,3448.5)">
<g><use href="#M" x="31"/><use href="#M" x="271"/><use href="#M" x="511"/><use href="#M" x="751"/></g>
<g id="m93" transform="translate(31,0)"><text class="n" y="-7.5">93</text><text class="a" x="239" y="76">100</text><text class="b" x="239" y="89.5">134243</text><text class="c" x="239" y="102">0.00%</text><use href="#G" x="150"/><use href="#R" x="180"/><use href="#Y" x="195"/><use href="#O" x="225"/></g>
<g id="m94" transform="translate(271,0)"><text class="tp" y="-20">♩=115</text><text class="n" y="-7.5">94</text><text class="a" x="239" y="76">325</text><text class="b" x="239" y="89.5">136343</text><text class="c" x="239" y="102">0.00%</text><use href="#O" x="15"/><use href="#B" x="22.5"/><use href="#O" x="45"/><use href="#B" x="52.5"/><use href="#Y" x="75"/><use href="#G" x="105"/><use href="#Y" x="120"/><use href="#Y" x="135"/><use href="#G" x="150"/><use href="#Y" x="180"/><use href="#Y" x="195"/><use href="#G" x="210"/><use href="#G" x="225"/></g>
<g id="m95" transform="translate(511,0)"><text class="n" y="-7.5">95</text><text class="a" x="239" y="76">100</text><text class="b" x="239" y="89.5">136743</text><text class="c" x="239" y="102">0.00%</text><use href="#G" x="150"/><use href="#R" x="180"/><use href="#Y" x="195"/><use href="#O" x="225"/></g>
<g id="m96" transform="translate(751,0)"><text class="tp" y="-20">♩=115</text><text class="n" y="-7.5">96</text><text class="a" x="239" y="76">200</text><text class="b" x="239" y="89.5">137543</text><text class="c" x="239" y="102">0.00%</text><use href="#B" x="15"/><use href="#Y" x="30"/><use href="#R" x="45"/><use href="#G" x="90"/><use href="#sY" x="120"/><use href="#sG" x="150"/><use href="#sY" x="180"/><use href="#sO" x="225"/></g>
<rect class="bl" x="31" width="365" height="60"/><rect class="pk" x="396" width="10" height="60"/><rect class="gr" x="871" width="120" height="60"/>
</g>

<g id="row25" transform="translate(0,3589.5)">
<g><use href="#M" x="31"/><use href="#M" x="271"/><use href="#M" x="511"/><use href="#M" x="751"/></g>
<g id="m97" transform="translate(31,0)"><text class="n" y="-7.5">97</text><text class="a" x="239" y="76">125</text><text class="b" x="239" y="89.5">138043</text><text class="c" x="239" y="102">25.00%</text><use href="#sO" x="15"/><use href="#sB" x="30"/><use href="#sY" x="45"/><use href="#sB" x="90"/><use href="#O" x="225"/></g>
<g id="m98" transform="translate(271,0)"><text class="n" y="-7.5">98</text><text class="a" x="239" y="76">275</text><text class="b" x="239" y="89.5">139143</text><text class="c" x="239" y="102">25.00%</text><use href="#B" x="15"/><use href="#Y" x="22.5"/><use href="#R" x="30"/><use href="#R" x="60"/><use href="#G" x="90"/><use href="#B" x="120"/><use href="#O" x="135"/><use href="#Y" x="150"/><use href="#B" x="165"/><use href="#R" x="180"/><use href="#R" x="210"/></g>
<g id="m99" transform="translate(511,0)"><text class="tp" y="-20">♩=114</text><text class="n" y="-7.5">99</text><text class="a" x="239" y="76">0</text><text class="b" x="239" y="89.5">139143</text><text class="c" x="239" y="102">25.00%</text></g>
<g id="m100" transform="translate(751,0)"><text class="tp" y="-20">♩=116</text><text class="n" y="-7.5">100</text><text class="a" x="239" y="76">0</text><text class="b" x="239" y="89.5">139143</text><text class="c" x="239" y="102">25.00%</text></g>
<rect class="gr" x="31" width="90" height="60"/>
</g>

<g id="row26" transform="translate(0,3730.5)">
<g><use href="#M" x="31"/><use href="#M" x="271"/><use href="#M" x="511"/><use href="#M" x="751"/></g>
<g id="m101" transform="translate(31,0)"><text class="n" y="-7.5">101</text><text class="a" x="239" y="76">150</text><text class="b" x="239" y="89.5">139743</text><text class="c" x="239" y="102">25.00%</text><use href="#G" x="60"/><use href="#G" x="90"/><use href="#G" x="120"/><use href="#G" x="150"/><use href="#G" x="180"/><use href="#G" x="210"/></g>
<g id="m102" transform="translate(271,0)"><text class="tp" y="-20">♩=115</text><text class="n" y="-7.5">102</text><text class="a" x="239" y="76">275</text><text class="b" x="239" y="89.5">140843</text><text class="c" x="239" y="102">25.00%</text><use href="#Q3"/></g>
<g id="m103" transform="translate(511,0)"><text class="n" y="-7.5">103</text><text class="a" x="239" y="76">50</text><text class="b" x="239" y="89.5">141043</text><text class="c" x="239" y="102">25.00%</text><use href="#Q2"/></g>
<g id="m104" transform="translate(751,0)"><text class="n" y="-7.5">104</text><text class="a" x="239" y="76">150</text><text class="b" x="239" y="89.5">141643</text><text class="c" x="239" y="102">25.00%</text><use href="#Q1"/></g>
</g>

<g id="row27" transform="translate(0,3871.5)">
<rect class="yb" x="976" y="-10" width="15" height="10"/><rect class="yb" x="976" y="60" width="15" height="10"/>
<g><use href="#M" x="31"/><use href="#M" x="271"/><use href="#M" x="511"/><use href="#M" x="751"/></g>
<g id="m105" transform="translate(31,0)"><text class="tp" y="-20">♩=116</text><text class="n" y="-7.5">105</text><text class="a" x="239" y="76">50</text><text class="b" x="239" y="89.5">141843</text><text class="c" x="239" y="102">25.00%</text><use href="#Q2"/></g>
<g id="m106" transform="translate(271,0)"><text class="tp" y="-20">♩=114</text><text class="n" y="-7.5">106</text><text class="a" x="239" y="76">150</text><text class="b" x="239" y="89.5">142443</text><text class="c" x="239" y="102">25.00%</text><use href="#Q1"/></g>
<g id="m107" transform="translate(511,0)"><text class="n" y="-7.5">107</text><text class="a" x="239" y="76">50</text><text class="b" x="239" y="89.5">142643</text><text class="c" x="239" y="102">25.00%</text><use href="#Q2"/></g>
<g id="m108" transform="translate(751,0)"><text class="tp" y="-20">♩=116</text><text class="n" y="-7.5">108</text><text class="a" x="239" y="76">150</text><text class="b" x="239" y="89.5">143243</text><text class="c" x="239" y="102">25.00%</text><use href="#Y" x="15"/><use href="#B" x="15"/><use href="#B" x="105"/><use href="#O" x="105"/><use href="#sY" x="225"/><use href="#sG" x="225"/></g>
<rect class="gr" x="976" width="15" height="60"/>
</g>

<g id="row28" transform="translate(0,4012.5)">
<rect class="yb" x="31" y="-10" width="30" height="10"/><rect class="yb" x="31" y="60" width="30" height="10"/>
<g><use href="#M" x="31"/><use href="#M" x="271"/><use href="#M" x="511"/><use href="#M" x="751"/></g>
<g id="m109" transform="translate(31,0)"><text class="n" y="-7.5">109</text><text class="a" x="239" y="76">50</text><text class="b" x="239" y="89.5">143443</text><text class="c" x="239" y="102">50.00%</text><use href="#Q2s"/></g>
<g id="m110" transform="translate(271,0)"><text class="n" y="-7.5">110</text><text class="a" x="239" y="76">150</text><text class="b" x="239" y="89.5">144043</text><text class="c" x="239" y="102">50.00%</text><use href="#Q1"/></g>
<g id="m111" transform="translate(511,0)"><text class="n" y="-7.5">111</text><text class="a" x="239" y="76">50</text><text class="b" x="239" y="89.5">144243</text><text class="c" x="239" y="102">50.00%</text><use href="#Q2"/></g>
<g id="m112" transform="translate(751,0)"><text class="tp" y="-20">♩=115</text><text class="n" y="-7.5">112</text><text class="a" x="239" y="76">150</text><text class="b" x="239" y="89.5">144843</text><text class="c" x="239" y="102">50.00%</text><use href="#Q1"/></g>
<rect class="gr" x="31" width="30" height="60"/>
</g>

<g id="row29" transform="translate(0,4153.5)">
<g><use href="#M" x="31"/><use href="#M" x="271"/><use href="#M" x="511"/><use href="#M" x="751"/></g>
<g id="m113" transform="translate(31,0)"><text class="n" y="-7.5">113</text><text class="a" x="239" y="76">50</text><text class="b" x="239" y="89.5">145043</text><text class="c" x="239" y="102">50.00%</text><use href="#Q2"/></g>
<g id="m114" transform="translate(271,0)"><text class="tp" y="-20">♩=115</text><text class="n" y="-7.5">114</text><text class="a" x="239" y="76">150</text><text class="b" x="239" y="89.5">145643</text><text class="c" x="239" y="102">50.00%</text><use href="#Q1"/></g>
<g id="m115" transform="translate(511,0)"><text class="n" y="-7.5">115</text><text class="a" x="239" y="76">50</text><text class="b" x="239" y="89.5">145843</text><text class="c" x="239" y="102">50.00%</text><use href="#Q2"/></g>
<g id="m116" transform="translate(751,0)"><text class="tp" y="-20">♩=115</text><text class="n" y="-7.5">116</text><text class="a" x="239" y="76">150</text><text class="b" x="239" y="89.5">146443</text><text class="c" x="239" y="102">75.00%</text><use href="#Q1s"/></g>
<rect class="gr" x="766" width="209" height="60"/>
</g>

<g id="row30" transform="translate(0,4294.5)">
<g><use href="#M" x="31"/><use href="#M" x="271"/><use href="#M" x="511"/><use href="#M" x="751"/></g>
<g id="m117" transform="translate(31,0)"><text class="tp" y="-20">♩=116</text><text class="n" y="-7.5">117</text><text class="a" x="239" y="76">50</text><text class="b" x="239" y="89.5">146643</text><text class="c" x="239" y="102">75.00%</text><use href="#Q2"/></g>
<g id="m118" transform="translate(271,0)"><text class="tp" y="-20">♩=114</text><text class="n" y="-7.5">118</text><text class="a" x="239" y="76">150</text><text class="b" x="239" y="89.5">147243</text><text class="c" x="239" y="102">75.00%</text><use href="#Q1"/></g>
<g id="m119" transform="translate(511,0)"><text class="tp" y="-20">♩=114</text><text class="n" y="-7.5">119</text><text class="a" x="239" y="76">50</text><text class="b" x="239" y="89.5">147443</text><text class="c" x="239" y="102">75.00%</text><use href="#Q2"/></g>
<g id="m120" transform="translate(751,0)"><text class="tp" y="-20">♩=115</text><text class="n" y="-7.5">120</text><text class="a" x="239" y="76">150</text><text class="b" x="239" y="89.5">148043</text><text class="c" x="239" y="102">75.00%</text><use href="#Q1"/></g>
</g>

<g id="row31" transform="translate(0,4435.5)">
<g><use href="#M" x="31"/><use href="#M" x="271"/><use href="#M" x="511"/><use href="#M" x="751"/></g>
<g id="m121" transform="translate(31,0)"><text class="tp" y="-20">♩=116</text><text class="n" y="-7.5">121</text><text class="a" x="239" y="76">125</text><text class="b" x="239" y="89.5">148543</text><text class="c" x="239" y="102">75.00%</text><use href="#Q2"/><use href="#G" x="150"/><use href="#G" x="180"/><use href="#G" x="210"/></g>
<g id="m122" transform="translate(271,0)"><text class="tp" y="-20">♩=116</text><text class="n" y="-7.5">122</text><text class="a" x="239" y="76">300</text><text class="b" x="239" y="89.5">149743</text><text class="c" x="239" y="102">75.00%</text><use href="#Q3"/></g>
<g id="m123" transform="translate(511,0)"><text class="tp" y="-20">♩=114</text><text class="n" y="-7.5">123</text><text class="a" x="239" y="76">275</text><text class="b" x="239" y="89.5">150843</text><text class="c" x="239" y="102">75.00%</text><use href="#Q2"/><use href="#G" x="60"/><use href="#G" x="90"/><use href="#G" x="120"/><use href="#G" x="150"/><use href="#G" x="165"/><use href="#G" x="180"/><use href="#G" x="195"/><use href="#G" x="210"/><use href="#G" x="225"/></g>
<g id="m124" transform="translate(751,0)"><text class="tp" y="-20">♩=115</text><text class="n" y="-7.5">124</text><text class="a" x="239" y="76">300</text><text class="b" x="239" y="89.5">153243</text><text class="c" x="239" y="102">62.77%</text><use href="#Q3"/></g>
<rect class="pk" x="751" width="5" height="60"/><rect class="bl" x="756" width="235" height="60"/>
</g>

<g id="row32" transform="translate(0,4576.5)">
<rect class="yb" x="751" y="-10" width="224" height="10"/><rect class="yb" x="751" y="60" width="224" height="10"/>
<g><use href="#M" x="31"/><use href="#M" x="271"/><use href="#M" x="511"/><use href="#M" x="751"/></g>
<g id="m125" transform="translate(31,0)"><text class="tp" y="-20">♩=115</text><text class="n" y="-7.5">125</text><text class="a" x="239" y="76">200</text><text class="b" x="239" y="89.5">154943</text><text class="c" x="239" y="102">50.27%</text><use href="#Q2"/><use href="#G" x="60"/><use href="#G" x="90"/><use href="#G" x="120"/><use href="#G" x="150"/><use href="#G" x="180"/><use href="#G" x="210"/></g>
<g id="m126" transform="translate(271,0)"><text class="n" y="-7.5">126</text><text class="a" x="239" y="76">300</text><text class="b" x="239" y="89.5">157243</text><text class="c" x="239" y="102">37.77%</text><use href="#Q3"/></g>
<g id="m127" transform="translate(511,0)"><text class="n" y="-7.5">127</text><text class="a" x="239" y="76">200</text><text class="b" x="239" y="89.5">158843</text><text class="c" x="239" y="102">25.27%</text><use href="#Q2"/><use href="#G" x="60"/><use href="#G" x="90"/><use href="#G" x="120"/><use href="#G" x="150"/><use href="#G" x="180"/><use href="#G" x="210"/></g>
<g id="m128" transform="translate(751,0)"><text class="tp" y="-20">♩=115</text><text class="n" y="-7.5">128</text><text class="a" x="239" y="76">300</text><text class="b" x="239" y="89.5">161243</text><text class="c" x="239" y="102">37.77%</text><use href="#Q3s"/></g>
<rect class="gr" x="751" width="224" height="60"/><rect class="bl" x="31" width="960" height="60"/>
</g>

<g id="row33" transform="translate(0,4717.5)">
<g><use href="#M" x="31"/><use href="#M" x="271"/><use href="#M" x="511"/><use href="#M" x="751"/></g>
<g id="m129" transform="translate(31,0)"><text class="n" y="-7.5">129</text><text class="a" x="239" y="76">225</text><text class="b" x="239" y="89.5">163043</text><text class="c" x="239" y="102">25.27%</text><use href="#Q2"/><use href="#G" x="60"/><use href="#G" x="90"/><use href="#G" x="120"/><use href="#G" x="150"/><use href="#G" x="180"/><use href="#G" x="210"/><use href="#G" x="225"/></g>
<g id="m130" transform="translate(271,0)"><text class="tp" y="-20">♩=115</text><text class="n" y="-7.5">130</text><text class="a" x="239" y="76">300</text><text class="b" x="239" y="89.5">165443</text><text class="c" x="239" y="102">12.77%</text><use href="#Q3"/></g>
<g id="m131" transform="translate(511,0)"><text class="tp" y="-20">♩=114</text><text class="n" y="-7.5">131</text><text class="a" x="239" y="76">325</text><text class="b" x="239" y="89.5">168043</text><text class="c" x="239" y="102">0.27%</text><use href="#Q2"/><use href="#G" x="60"/><use href="#G" x="75"/><use href="#G" x="90"/><use href="#G" x="135"/><use href="#G" x="150"/><use href="#G" x="165"/><use href="#G" x="180"/><use href="#G" x="210"/><use href="#G" x="225"/><use href="#O" x="105"/><use href="#B" x="195"/></g>
<g id="m132" transform="translate(751,0)"><text class="tp" y="-20">♩=116</text><text class="n" y="-7.5">132</text><text class="a" x="239" y="76">300</text><text class="b" x="239" y="89.5">170443</text><text class="c" x="239" y="102">0.00%</text><use href="#Q3"/></g>
<rect class="bl" x="31" width="960" height="60"/>
</g>

<g id="row34" transform="translate(0,4858.5)">
<g><use href="#M" x="31"/><use href="#M" x="271"/><use href="#M" x="511"/><use href="#M" x="751"/></g>
<g id="m133" transform="translate(31,0)"><text class="n" y="-7.5">133</text><text class="a" x="239" y="76">275</text><text class="b" x="239" y="89.5">172643</text><text class="c" x="239" y="102">0.00%</text><use href="#Q2"/><use href="#G" x="60"/><use href="#O" x="75"/><use href="#G" x="105"/><use href="#G" x="120"/><use href="#B" x="135"/><use href="#G" x="180"/><use href="#Y" x="180"/><use href="#G" x="210"/><use href="#G" x="225"/></g>
<g id="m134" transform="translate(271,0)"><text class="tp" y="-20">♩=114</text><text class="n" y="-7.5">134</text><text class="a" x="239" y="76">300</text><text class="b" x="239" y="89.5">175043</text><text class="c" x="239" y="102">0.00%</text><use href="#G"/><use href="#Y" x="15"/><use href="#B" x="15"/><use href="#G" x="60"/><use href="#G" x="90"/><use href="#B" x="105"/><use href="#O" x="105"/><use href="#G" x="150"/><use href="#G" x="180"/><use href="#sG" x="210"/><use href="#sG" x="225"/><use href="#sY" x="225"/></g>
<g id="m135" transform="translate(511,0)"><text class="tp" y="-20">♩=114</text><text class="n" y="-7.5">135</text><text class="a" x="239" y="76">325</text><text class="b" x="239" y="89.5">177643</text><text class="c" x="239" y="102">22.66%</text><use href="#Q2s"/><use href="#sG" x="60"/><use href="#sG" x="90"/><use href="#sG" x="105"/><use href="#sG" x="120"/><use href="#sG" x="135"/><use href="#sG" x="150"/><use href="#sG" x="165"/><use href="#sG" x="180"/><use href="#sG" x="195"/><use href="#G" x="210"/><use href="#G" x="225"/></g>
<g id="m136" transform="translate(751,0)"><text class="tp" y="-20">♩=117</text><text class="n" y="-7.5">136</text><text class="a" x="239" y="76">300</text><text class="b" x="239" y="89.5">180043</text><text class="c" x="239" y="102">10.16%</text><use href="#Q3"/></g>
<rect class="gr" x="481" width="225" height="60"/><rect class="bl" x="31" width="960" height="60"/>
</g>

<g id="row35" transform="translate(0,4999.5)">
<g><use href="#M" x="31"/><use href="#M" x="271"/><use href="#M" x="511"/><use href="#M" x="751"/></g>
<g id="m137" transform="translate(31,0)"><text class="tp" y="-20">♩=114</text><text class="n" y="-7.5">137</text><text class="a" x="239" y="76">325</text><text class="b" x="239" y="89.5">182643</text><text class="c" x="239" y="102">0.00%</text><use href="#Q2"/><use href="#G" x="60"/><use href="#G" x="90"/><use href="#G" x="105"/><use href="#G" x="120"/><use href="#O" x="135"/><use href="#G" x="150"/><use href="#G" x="165"/><use href="#G" x="180"/><use href="#G" x="195"/><use href="#G" x="210"/><use href="#G" x="225"/></g>
<g id="m138" transform="translate(271,0)"><text class="tp" y="-20">♩=115</text><text class="n" y="-7.5">138</text><text class="a" x="239" y="76">300</text><text class="b" x="239" y="89.5">184143</text><text class="c" x="239" y="102">0.00%</text><use href="#Q3"/></g>
<g id="m139" transform="translate(511,0)"><text class="tp" y="-20">♩=115</text><text class="n" y="-7.5">139</text><text class="a" x="239" y="76">325</text><text class="b" x="239" y="89.5">185443</text><text class="c" x="239" y="102">0.00%</text><use href="#Q2"/><use href="#G" x="60"/><use href="#G" x="90"/><use href="#G" x="105"/><use href="#G" x="120"/><use href="#G" x="135"/><use href="#G" x="150"/><use href="#G" x="165"/><use href="#G" x="180"/><use href="#G" x="195"/><use href="#G" x="210"/><use href="#G" x="225"/></g>
<g id="m140" transform="translate(751,0)"><text class="n" y="-7.5">140</text><text class="a" x="239" y="76">300</text><text class="b" x="239" y="89.5">186643</text><text class="c" x="239" y="102">0.00%</text><use href="#Q3"/></g>
<rect class="bl" x="31" width="245" height="60"/><rect class="pk" x="276" width="10" height="60"/>
</g>

<g id="row36" transform="translate(0,5140.5)">
<g><use href="#M" x="31"/><use href="#M" x="271"/><use href="#M" x="511"/><use href="#M" x="751"/></g>
<g id="m141" transform="translate(31,0)"><text class="tp" y="-20">♩=117</text><text class="n" y="-7.5">141</text><text class="a" x="239" y="76">275</text><text class="b" x="239" y="89.5">187743</text><text class="c" x="239" y="102">0.00%</text><use href="#Q2"/><use href="#G" x="60"/><use href="#G" x="90"/><use href="#G" x="120"/><use href="#G" x="150"/><use href="#G" x="165"/><use href="#G" x="180"/><use href="#G" x="195"/><use href="#G" x="210"/><use href="#G" x="225"/></g>
<g id="m142" transform="translate(271,0)"><text class="tp" y="-20">♩=115</text><text class="n" y="-7.5">142</text><text class="a" x="239" y="76">300</text><text class="b" x="239" y="89.5">188943</text><text class="c" x="239" y="102">0.00%</text><use href="#Q3"/></g>
<g id="m143" transform="translate(511,0)"><text class="tp" y="-20">♩=115</text><text class="n" y="-7.5">143</text><text class="a" x="239" y="76">300</text><text class="b" x="239" y="89.5">190143</text><text class="c" x="239" y="102">0.00%</text><use href="#Q2"/><use href="#G" x="60"/><use href="#G" x="90"/><use href="#G" x="120"/><use href="#G" x="135"/><use href="#G" x="150"/><use href="#G" x="165"/><use href="#G" x="180"/><use href="#G" x="195"/><use href="#G" x="210"/><use href="#G" x="225"/></g>
<g id="m144" transform="translate(751,0)"><text class="n" y="-7.5">144</text><text class="a" x="239" y="76">300</text><text class="b" x="239" y="89.5">191343</text><text class="c" x="239" y="102">0.00%</text><use href="#Q3"/></g>
</g>

<g id="row37" transform="translate(0,5281.5)">
<g><use href="#M" x="31"/><use href="#M" x="271"/><use href="#M" x="511"/></g>
<g id="m145" transform="translate(31,0)"><text class="n" y="-7.5">145</text><text class="a" x="239" y="76">200</text><text class="b" x="239" y="89.5">192143</text><text class="c" x="239" y="102">0.00%</text><use href="#Q2"/><use href="#G" x="60"/><use href="#G" x="90"/><use href="#G" x="120"/><use href="#G" x="150"/><use href="#G" x="180"/><use href="#G" x="210"/></g>
<g id="m146" transform="translate(271,0)"><text class="tp" y="-20">♩=115</text><text class="n" y="-7.5">146</text><text class="a" x="239" y="76">300</text><text class="b" x="239" y="89.5">193343</text><text class="c" x="239" y="102">0.00%</text><use href="#Q3"/></g>
<g id="m147" transform="translate(511,0)"><text class="n" y="-7.5">147</text><text class="a" x="239" y="76">50</text><text class="b" x="239" y="89.5">193543</text><text class="c" x="239" y="102">0.00%</text><use href="#Q2"/></g>
</g>
</g>
</svg>
